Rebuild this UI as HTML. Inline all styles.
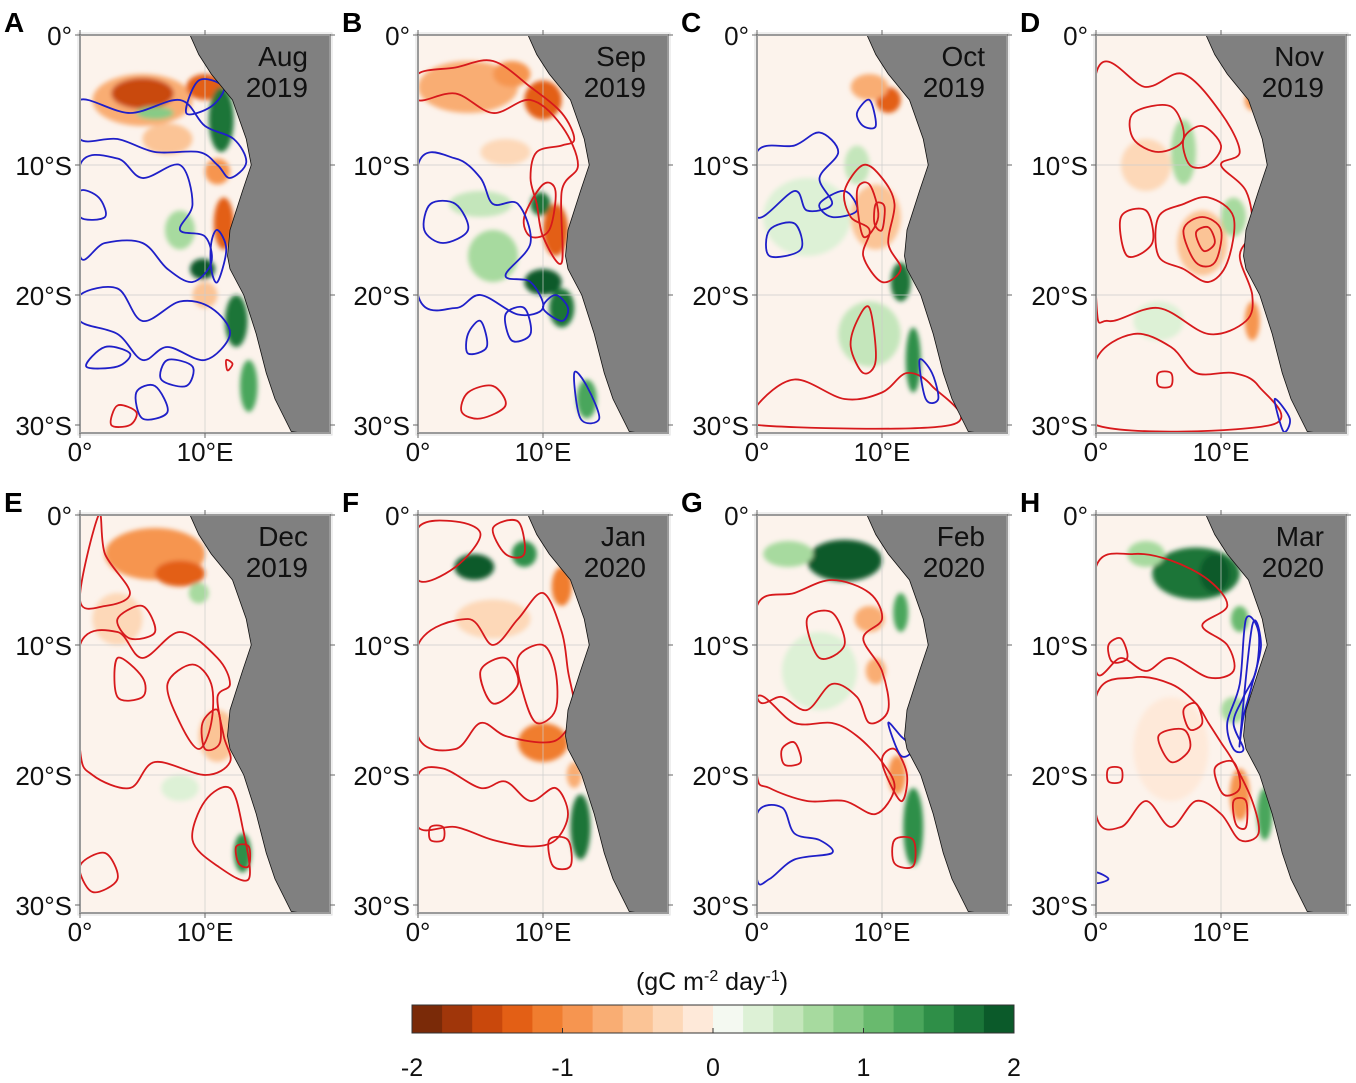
<!DOCTYPE html>
<html><head><meta charset="utf-8"><style>
body{margin:0;background:#fff;width:1356px;height:1083px;overflow:hidden}
svg{display:block;font-family:"Liberation Sans",Arial,sans-serif}
</style></head><body>
<svg id="fig" width="1356" height="1083" viewBox="0 0 1356 1083">
<defs><filter id="bl" x="-20%" y="-20%" width="140%" height="140%"><feGaussianBlur stdDeviation="2.5"/></filter></defs>
</svg>
<script>
const panelLetters=["A","B","C","D","E","F","G","H"];
const months=["Aug","Sep","Oct","Nov","Dec","Jan","Feb","Mar"];
const years=["2019","2019","2019","2019","2019","2020","2020","2020"];
const latTicks=[0,10,20,30];
const latLabels=["0°","10°S","20°S","30°S"];
const lonTicks=[0,10];
const lonLabels=["0°","10°E"];
const coast=[[8.8,0],[9.5,1.5],[10.5,3],[12.2,5],[13.3,8],[13.7,10],[13.0,12],[12.0,15],[11.8,17],[12,18],[13.1,20],[14.1,23],[14.9,26],[15.6,28],[16.9,30.5]];
const cbValues=[-2,-1.8,-1.6,-1.4,-1.2,-1,-0.8,-0.6,-0.4,-0.2,0,0.2,0.4,0.6,0.8,1,1.2,1.4,1.6,1.8];
const cbColors=["#7a2a08","#a0360a","#c9480c","#e35f15","#f07d2f","#f69550","#f9ad73","#fbc496","#fdd8b8","#fee9d9","#f4f9f1","#ddf1d6","#c4e6bb","#a7da9f","#88cb86","#69ba6e","#4aa65b","#2f8f48","#1a7538","#0b5a2a"];
const cbTicks=[-2,-1,0,1,2];
// patches: [lon, lat, rxDeg, ryDeg, value]
const patchesA=[[5,5,4,2,-0.7],[5,4.5,2.5,1.2,-1.5],[10,4,1.5,1,-1.3],[7,8,2,1.2,-0.5],[11.3,6.5,1,2.5,1.8],[6,6,1.5,0.5,0.9],[11.5,14.5,0.8,2,-1.4],[11,10.5,1,1,-1],[9.8,18,1,0.8,1.9],[8,15,1.2,1.5,0.7],[12.5,22,0.9,2,1.6],[13.5,27,0.7,2,1.2],[10,20,1,1,-0.5]];
const patchesB=[[4,4,4,2,-0.6],[10,5,1.5,1.5,-1.4],[7.5,3,1.5,1,-1],[11,15,1,2,-1.3],[9.8,13,0.8,0.9,1.6],[10,19,1.5,1,1.9],[11.5,21,1,1.5,1.6],[6,17,2,2,0.6],[5,13,2.5,1,0.5],[7,9,2,1,-0.3],[13.5,28,0.8,1.5,1.2]];
const patchesC=[[10.5,5,1,1,-1.3],[9,4,1.5,1,-0.6],[11.5,19,0.8,1.5,1.7],[9,23,2.5,2.5,0.5],[4,14,3.5,3,0.3],[9.5,14,2,2.5,-0.5],[12.5,25,0.6,2.5,1.5],[8,10,1,1.5,0.5]];
const patchesD=[[7,9,1,2.5,0.7],[8.5,16,2,2.5,-0.5],[11,14,1,1.5,0.8],[12.5,22,0.6,1.5,-0.8],[5,22,2,1.5,0.3],[4,10,2,2,-0.3],[12.5,5,0.6,0.8,-1]];
const patchesE=[[6,3,4,2,-0.9],[8,4.5,2,1,-1.3],[9.5,6,0.8,0.8,0.6],[13,26,0.7,1.5,1.4],[8,21,1.5,1,0.4],[11,17,1.5,2,-0.5],[3,8,2,2,-0.3]];
const patchesF=[[4.5,4,1.6,1,1.9],[8.5,3,1,1,1.5],[11.5,5.5,0.8,1.5,-1.1],[10,17.5,2,1.5,-1.1],[13,24,0.8,2.5,1.7],[6,8,3,1.5,-0.3],[12.5,20,0.6,1,-0.7]];
const patchesG=[[7,3.5,3,1.6,1.9],[2.5,3,2,1,0.6],[11.5,7.5,0.6,1.5,1.3],[9,8,1.2,1,-0.7],[9.5,12,0.8,1,-0.6],[11.2,20,0.7,1.5,-0.9],[12.5,24,0.8,3,1.4],[5,12,3,3,0.2]];
const patchesH=[[8,4.5,3.5,2,1.6],[9.5,4.5,1.2,1.5,1.9],[4,3,1.5,1,0.7],[11.5,8,0.7,1,1.1],[11.5,21.5,0.8,2,-1.0],[13.5,23,0.6,2,1.3],[11,15,1,1,0.6],[6,18,3,4,-0.2]];
// contours: [color, [[lon,lat],...]]
const contoursA=[["b",[[0,5],[4,6],[8,5],[10,7],[12.3,8],[13.3,9.8],[12,11],[11,10],[9.5,9],[6,9],[3,8],[0,8]]],["b",[[0,10],[3,9.5],[5,11],[8,10],[9,13],[8,15],[10,15.5],[10.5,17.5],[9,19],[7,18],[5,16],[2,16],[0,17]]],["b",[[0,12],[1.5,12.5],[2,14],[0,14]]],["b",[[0,20],[3,19.5],[5,22],[8,20.5],[10.5,21],[12,23],[10,25],[7,24],[5,25],[3,23],[0,22]]],["b",[[2,24],[4,24.5],[3,25.5],[0.5,25.5]]],["b",[[7,25],[9,25.5],[8.5,27],[6.5,26.5]]],["b",[[4.5,27.5],[6,27],[7,29],[5,29.5]]],["r",[[3,28.5],[4.5,29],[4,30],[2.5,30]]],["r",[[11.7,25],[12.2,25.3],[11.8,25.8]]],["b",[[8.5,6],[9.5,3.5],[11.5,4],[10.5,5.5]]],["b",[[10.5,16],[11,15],[11.7,16.5],[11,19],[10.5,18]]]];
const contoursB=[["r",[[0,3],[3,2.5],[6,2],[9,4],[11.5,6],[12.5,8],[11.5,8.5],[9.5,9],[9,11],[9.5,13],[10,15.5],[11.5,17.5],[11.5,12],[12.8,10],[11.5,7],[9,5],[6,6],[3,4.5],[0,5]]],["r",[[8.5,14],[10,11.5],[11,12],[10.5,15],[9,15.5]]],["b",[[0,10],[3,9.5],[5,11],[6,13],[8,13],[9,16],[7,18.5],[9,19],[10,21],[8,21.5],[5,20],[3,21],[0,20]]],["b",[[1,13],[3,13],[4,15],[2,16],[0.5,15]]],["b",[[4,23],[5,22],[5.5,24],[4,24.5]]],["b",[[7,21.5],[8.5,21],[9,23],[7.5,23.5]]],["r",[[4,27.5],[6,27],[7,28.5],[5,29.5],[3.5,29]]],["b",[[12.5,26],[13.5,27],[14.5,29.5],[13,29.5]]],["b",[[10,21],[11,20],[12,21],[11.5,22]]]];
const contoursC=[["b",[[0,9],[3,8.5],[5,7.5],[6.5,9],[5,11],[6,13],[4,13.5],[3,12],[0,14]]],["b",[[5,13],[7,12],[8,13.5],[6,14]]],["b",[[1,15],[3,14.5],[3.5,16.5],[1,17]]],["r",[[7,12],[8.5,10],[10,11],[11,13],[10.5,16],[11.5,18],[10,19],[8.5,17],[9,15],[7.5,14]]],["r",[[8,12],[9,11.5],[9.7,14],[8.5,15.5]]],["r",[[9.5,13],[10.2,13.2],[10,15],[9.4,14.5]]],["r",[[8,22],[9,21],[9.5,25],[8.5,26],[7.5,24]]],["r",[[0,28.5],[3,26.5],[7,28],[10,27.5],[12,26],[14,27],[15.5,30],[0,30]]],["b",[[13,25],[14,26],[14.5,28],[13.5,28]]],["b",[[8,6],[9,5],[9.5,7],[8.5,7]]]];
const contoursD=[["r",[[0,3],[4,4],[7,3],[10,6],[11.5,9],[10,10],[12,12],[12.5,15],[11.5,17],[12.5,20],[12,22],[9,23],[5,21],[1,22],[0,20]]],["r",[[3,6],[6,5.5],[7,8],[5,9],[3,8]]],["r",[[7,8],[8.5,7],[10,8.5],[9,10],[7.5,10]]],["r",[[5,14],[7,13],[9,12.5],[11,14],[10.5,17.5],[9,19],[7,18],[5,17]]],["r",[[7,15],[8.5,14],[10,15],[9.5,17.5],[8,17.5]]],["r",[[8,15.2],[9,14.8],[9.5,16],[8.6,16.6]]],["r",[[2,14],[4,13.5],[4.5,16],[2.5,17]]],["r",[[0,25],[3,23],[6,24],[8,26],[11,26],[13,27],[14,30],[0,30]]],["r",[[5,26],[6,26],[6,27],[5,27]]],["b",[[14.3,28],[15.5,29.5],[15,30.5]]]];
const contoursE=[["r",[[1.5,0],[2,3],[4,6],[2,7],[0,6.5]]],["r",[[0,10],[3,9],[5,11],[8,9],[11,11],[12,13],[11,14],[11.5,17],[12,19],[10,20],[6,19],[4,21],[1,20],[0,18]]],["r",[[3,11],[5,12.5],[5,14],[3,14]]],["r",[[7,13],[9,11.5],[10.5,13],[10.5,16],[9.5,18],[8,16]]],["r",[[9.8,16],[11,15],[11.2,17.5],[10,18]]],["r",[[3,8],[5,7],[6,9],[4,9.5]]],["r",[[10,22],[12,21],[13,24],[13.5,28],[11,27],[9,25]]],["r",[[12.5,25.5],[13.5,25.5],[13.5,27],[12.7,26.8]]],["r",[[0,27],[2,26],[3,28],[1,29]]]];
const contoursF=[["r",[[0,5],[3,4],[5,1.5],[3,0.5],[0,1]]],["r",[[0,10],[4,8],[6,10],[8,8],[10,6],[11.5,9],[12,12],[12.5,15],[11.5,17],[10,17.5],[7,17],[5,16],[3,18],[0,17]]],["r",[[5,12],[7,11],[8,13],[6,14.5]]],["r",[[8,11],[10,10],[11,12],[11,15],[9.5,16],[8.5,14]]],["r",[[0,20],[2,19.5],[5,21],[7,20.5],[9,22],[11,21],[12,23],[11,25],[9,25.5],[6,25],[3,24],[0,24]]],["r",[[10.5,25],[12,25],[12.2,27],[10.8,27]]],["r",[[1,24],[2,24],[2,25],[1,25]]],["r",[[6,1],[8,0.5],[8.5,3],[7,3]]]];
const contoursG=[["r",[[0,7],[3,6],[6,5],[9,6],[10,8],[8.5,9.5],[10,12],[10.5,15],[9,16],[8,14],[6,13],[4,15],[2,14],[0,14]]],["r",[[0,14],[3,16],[6,16],[8,17],[10,19],[11,21],[9.5,23],[7,22],[4,22],[1,21],[0,20]]],["r",[[4,8],[6,7.5],[7,10],[5,11]]],["r",[[2,18],[3,17.5],[3.5,19],[2.2,19.2]]],["r",[[10,19],[11,18],[12,20],[11.5,22]]],["r",[[11,25],[12.5,25],[12.5,27],[11,26.8]]],["b",[[0,23],[2,22.5],[3,24.5],[5,25],[6,26],[3,26.5],[1,28],[0,28]]],["b",[[10.5,16],[11.5,17],[12.5,18],[11.5,18.5]]]];
const contoursH=[["r",[[0,4],[3,3],[6,3.5],[9,5],[10.5,7],[8.5,8.5],[10.5,10],[11,12],[9,12.5],[6,11],[4,12],[2,11],[0,12]]],["r",[[1,10],[2,9.5],[2.5,11],[1.3,11.3]]],["r",[[0,14],[3,12.5],[6,13],[8,14.5],[9,16],[10,17.5],[11,19],[12.5,22],[13,24.5],[11.5,25],[10,23],[8,22],[6,24],[4,22],[2,24],[0,23]]],["r",[[7,15],[8,14.5],[8.5,16],[7.5,16.5]]],["r",[[5,17],[7,16.5],[7.5,18],[6,19]]],["r",[[9.5,19.5],[11,19],[11.5,21],[10.2,21.5]]],["r",[[11,22],[12,22],[12,24],[11.2,23.8]]],["r",[[1,19.5],[2,19.5],[2,20.5],[1,20.5]]],["b",[[12,8],[13,9],[12.8,12],[11.8,14],[11,16],[11.8,18],[11,18],[10.5,16],[11.5,13]]],["b",[[12.5,8.5],[13.2,10],[12.5,13],[11.8,15.5],[11.5,17.5]]],["b",[[0,27.5],[1,28],[0,28.3]]]];
const patchesAll=[patchesA,patchesB,patchesC,patchesD,patchesE,patchesF,patchesG,patchesH];
const contoursAll=[contoursA,contoursB,contoursC,contoursD,contoursE,contoursF,contoursG,contoursH];

const NS="http://www.w3.org/2000/svg";
const svg=document.getElementById("fig");
function mk(tag,attrs,parent){const e=document.createElementNS(NS,tag);for(const k in attrs)e.setAttribute(k,attrs[k]);(parent||svg).appendChild(e);return e;}
const colX=[80,418,757,1096], rowY=[35,515];
const SX=12.5, SY=13.0, W=250, H=398;
function colorFor(v){let i=Math.floor((v+2)/0.2);i=Math.max(0,Math.min(19,i));return cbColors[i];}
function smooth(pts,closed){
  const p=pts; let d="M"+p[0][0]+","+p[0][1];
  const n=p.length;
  for(let i=0;i<(closed?n:n-1);i++){
    const p0=p[(i-1+n)%n],p1=p[i],p2=p[(i+1)%n],p3=p[(i+2)%n];
    const c1=[p1[0]+(p2[0]-p0[0])/6,p1[1]+(p2[1]-p0[1])/6];
    const c2=[p2[0]-(p3[0]-p1[0])/6,p2[1]-(p3[1]-p1[1])/6];
    d+=" C"+c1[0]+","+c1[1]+" "+c2[0]+","+c2[1]+" "+p2[0]+","+p2[1];
  }
  return d+(closed?"Z":"");
}
for(let i=0;i<8;i++){
  const ox=colX[i%4], oy=rowY[Math.floor(i/4)];
  const xs=lon=>ox+lon*SX, ys=lat=>oy+lat*SY;
  const g=mk("g",{});
  
  
  const cid="clip"+i;
  const cp=mk("clipPath",{id:cid},svg.querySelector("defs"));
  mk("rect",{x:ox,y:oy,width:W,height:H},cp);
  const ocean=mk("rect",{x:ox,y:oy,width:W,height:H,fill:"#fcf3ec"},g);
  
  
  const pg=mk("g",{"clip-path":"url(#"+cid+")"},g);
  const hg=mk("g",{filter:"url(#bl)"},pg);
  patchesAll[i].forEach(p=>{
    const e=mk("ellipse",{cx:xs(p[0]),cy:ys(p[1]),rx:p[2]*SX,ry:p[3]*SY,fill:colorFor(p[4])},hg);
    
    
  });
  [10].forEach(l=>{mk("line",{x1:xs(l),x2:xs(l),y1:oy,y2:oy+H,stroke:"#ccc","stroke-width":0.7},pg);});
  [10,20].forEach(l=>{mk("line",{x1:ox,x2:ox+W,y1:ys(l),y2:ys(l),stroke:"#ccc","stroke-width":0.7},pg);});
  contoursAll[i].forEach(c=>{
    const pts=c[1].map(q=>[xs(q[0]),ys(q[1])]);
    const e=mk("path",{d:smooth(pts,true),fill:"none",stroke:c[0]==="r"?"#d7191c":"#1f1fc8","stroke-width":1.8},pg);
    
    
  });
  let d="M"+xs(20.5)+","+ys(-1);
  d+=" L"+xs(coast[0][0])+","+ys(-1);
  coast.forEach(q=>{d+=" L"+xs(q[0])+","+ys(q[1]);});
  d+=" L"+xs(20.5)+","+ys(31)+"Z";
  const land=mk("path",{d:d,fill:"#808080",stroke:"#111","stroke-width":0.8},pg);
  
  
  const fr=mk("rect",{x:ox,y:oy,width:W,height:H,fill:"none",stroke:"#9a9a9a","stroke-width":2},g);
  
  
  mk("rect",{x:ox-2,y:oy-2,width:W+4,height:H+4,fill:"none",stroke:"#ddd","stroke-width":1},g);
  const t=mk("text",{x:ox+W-22,y:oy+31,"font-size":28,"text-anchor":"end",fill:"#111"},g);
  t.textContent=months[i];
  
  
  const t2=mk("text",{x:ox+W-22,y:oy+62,"font-size":28,"text-anchor":"end",fill:"#111"},g);
  t2.textContent=years[i];
  
  
  const L=mk("text",{x:ox-76,y:oy-3,"font-size":28,"font-weight":"bold",fill:"#000"},g);
  L.textContent=panelLetters[i];
  
  
  latTicks.forEach((l,k)=>{
    const yy=Math.min(ys(l),oy+H);
    mk("line",{x1:ox-5,x2:ox,y1:yy,y2:yy,stroke:"#666","stroke-width":1},g);
    mk("line",{x1:ox+W,x2:ox+W+5,y1:yy,y2:yy,stroke:"#666","stroke-width":1},g);
    const tl=mk("text",{x:ox-8,y:yy+10,"font-size":26,"text-anchor":"end",fill:"#111"},g);
    tl.textContent=latLabels[k];
    
    
  });
  lonTicks.forEach((l,k)=>{
    mk("line",{x1:xs(l),x2:xs(l),y1:oy+H,y2:oy+H+5,stroke:"#666","stroke-width":1},g);
    mk("line",{x1:xs(l),x2:xs(l),y1:oy-5,y2:oy,stroke:"#666","stroke-width":1},g);
    const tl=mk("text",{x:xs(l),y:oy+H+28,"font-size":26,"text-anchor":"middle",fill:"#111"},g);
    tl.textContent=lonLabels[k];
    
    
  });
}
const cbX0=412, cbW=602, cbY=1005, cbH=28;
const cbx=v=>cbX0+(v+2)/4*cbW;
const cbG=mk("g",{});


cbValues.forEach((v,k)=>{
  const r=mk("rect",{x:cbx(v),y:cbY,width:cbW/20+0.5,height:cbH,fill:cbColors[k]},cbG);
  
  
});
mk("rect",{x:cbX0,y:cbY,width:cbW,height:cbH,fill:"none",stroke:"#333","stroke-width":1},cbG);
cbTicks.forEach(v=>{
  mk("line",{x1:cbx(v),x2:cbx(v),y1:cbY+cbH,y2:cbY+cbH-5,stroke:"#333"},cbG);
  const t=mk("text",{x:cbx(v),y:1076,"font-size":25,"text-anchor":"middle",fill:"#111"},cbG);
  t.textContent=String(v);
  
  
});
const ut=mk("text",{x:712,y:990,"font-size":25,"text-anchor":"middle",fill:"#111"});
ut.innerHTML='(gC m<tspan dy="-9" font-size="16">-2</tspan><tspan dy="9"> day</tspan><tspan dy="-9" font-size="16">-1</tspan><tspan dy="9">)</tspan>';


</script>
</body></html>
